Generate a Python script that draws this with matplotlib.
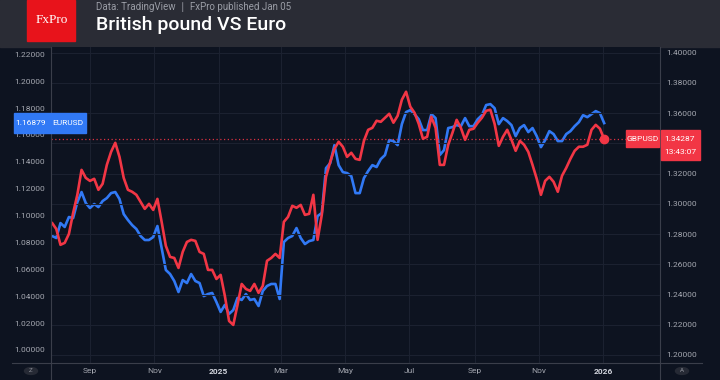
import numpy as np
import pandas as pd
import matplotlib
matplotlib.use("Agg")
import matplotlib.pyplot as plt
import matplotlib.transforms as mtransforms
from matplotlib.patches import Rectangle, Circle
from matplotlib.lines import Line2D

# daily-ish closes sampled every 4 days
dates = pd.date_range("2024-07-23", periods=133, freq="4D")

eurusd = [1.0870, 1.0848, 1.0833, 1.0944, 1.0915, 1.0989, 1.0981, 1.1100, 1.1175, 1.1093,
          1.1056, 1.1086, 1.1063, 1.1108, 1.1130, 1.1167, 1.1175, 1.1123, 1.1011, 1.0967,
          1.0929, 1.0900, 1.0848, 1.0818, 1.0818, 1.0840, 1.0922, 1.0758, 1.0595, 1.0565,
          1.0513, 1.0431, 1.0520, 1.0498, 1.0565, 1.0513, 1.0498, 1.0401, 1.0416, 1.0424,
          1.0357, 1.0283, 1.0335, 1.0268, 1.0297, 1.0387, 1.0372, 1.0416, 1.0372, 1.0379,
          1.0327, 1.0439, 1.0476, 1.0491, 1.0491, 1.0379, 1.0803, 1.0833, 1.0848, 1.0907,
          1.0833, 1.0788, 1.0810, 1.0818, 1.0996, 1.1019, 1.1353, 1.1390, 1.1524, 1.1375,
          1.1323, 1.1316, 1.1294, 1.1167, 1.1167, 1.1279, 1.1331, 1.1375, 1.1361, 1.1420,
          1.1450, 1.1561, 1.1554, 1.1524, 1.1680, 1.1770, 1.1784, 1.1755, 1.1717, 1.1636,
          1.1636, 1.1755, 1.1725, 1.1450, 1.1487, 1.1651, 1.1658, 1.1673, 1.1665, 1.1725,
          1.1665, 1.1665, 1.1717, 1.1747, 1.1822, 1.1829, 1.1799, 1.1680, 1.1725, 1.1703,
          1.1673, 1.1591, 1.1651, 1.1673, 1.1621, 1.1651, 1.1591, 1.1509, 1.1561, 1.1628,
          1.1606, 1.1554, 1.1554, 1.1606, 1.1628, 1.1665, 1.1695, 1.1747, 1.1732, 1.1755,
          1.1777, 1.1762, 1.16879]

gbpusd = [1.2887, 1.2874, 1.2834, 1.2729, 1.2742, 1.2801, 1.2940, 1.3060, 1.3225, 1.3172,
          1.3152, 1.3166, 1.3093, 1.3133, 1.3258, 1.3344, 1.3404, 1.3311, 1.3172, 1.3093,
          1.3080, 1.3060, 1.3013, 1.2967, 1.3000, 1.2960, 1.3033, 1.2881, 1.2722, 1.2649,
          1.2642, 1.2576, 1.2682, 1.2748, 1.2762, 1.2755, 1.2682, 1.2669, 1.2563, 1.2563,
          1.2503, 1.2530, 1.2391, 1.2225, 1.2199, 1.2331, 1.2470, 1.2437, 1.2424, 1.2470,
          1.2411, 1.2457, 1.2623, 1.2642, 1.2669, 1.2642, 1.2881, 1.2914, 1.2987, 1.2974,
          1.2993, 1.2927, 1.2934, 1.3060, 1.2762, 1.2927, 1.3179, 1.3278, 1.3364, 1.3411,
          1.3378, 1.3311, 1.3338, 1.3298, 1.3291, 1.3417, 1.3490, 1.3503, 1.3550, 1.3543,
          1.3570, 1.3596, 1.3537, 1.3583, 1.3689, 1.3742, 1.3643, 1.3603, 1.3530, 1.3431,
          1.3444, 1.3576, 1.3503, 1.3258, 1.3258, 1.3391, 1.3470, 1.3556, 1.3503, 1.3424,
          1.3490, 1.3497, 1.3537, 1.3570, 1.3616, 1.3623, 1.3530, 1.3384, 1.3444, 1.3490,
          1.3424, 1.3351, 1.3417, 1.3391, 1.3344, 1.3258, 1.3166, 1.3060, 1.3152, 1.3179,
          1.3146, 1.3080, 1.3186, 1.3238, 1.3298, 1.3351, 1.3378, 1.3378, 1.3391, 1.3490,
          1.3523, 1.3497, 1.34287]

tick_dates = pd.to_datetime(["2024-09-01", "2024-11-01", "2025-01-01", "2025-03-01", "2025-05-01",
                             "2025-07-01", "2025-09-01", "2025-11-01", "2026-01-01"])
tick_labels = ["Sep", "Nov", "2025", "Mar", "May", "Jul", "Sep", "Nov", "2026"]
eur_ticks = np.arange(1.00, 1.2201, 0.02)
gbp_ticks = np.arange(1.20, 1.4001, 0.02)

BG = "#0d1320"
HEAD = "#2a2c35"
GRID = "#1b2130"
EDGE = "#3a3e4a"
TXT = "#a4a7b0"
BLUE = "#3179f5"
RED = "#f23645"

plt.rcParams['font.family'] = ['Roboto', 'DejaVu Sans']

W, H = 720, 380
fig = plt.figure(figsize=(7.2, 3.8), dpi=100)
fig.patch.set_facecolor(BG)


def px(x, y):
    return x / W, 1 - y / H


# header band
fig.add_artist(Rectangle(px(0, 47), 1, 47 / H, transform=fig.transFigure, color=HEAD, zorder=0))
fig.add_artist(Rectangle(px(27, 41), 48 / W, 41 / H, transform=fig.transFigure, color="#e8131b", zorder=1))
fig.text(*px(52, 20), "FxPro", color="white", fontsize=9.5, family="Liberation Serif",
         ha="center", va="center")
fig.text(*px(96, 10), "Data: TradingView  \u2223  FxPro published Jan 05", color="#9a9da6",
         fontsize=7, ha="left", va="baseline")
fig.text(*px(96, 30), "British pound VS Euro", color="white", fontsize=14, fontweight="medium",
         ha="left", va="baseline")

# axes
l, b = px(51, 363)
ax = fig.add_axes([l, b, (660 - 51) / W, (363 - 47) / H])
ax.set_facecolor(BG)
ax2 = ax.twinx()

ax.plot(dates, eurusd, color=BLUE, lw=1.9, solid_joinstyle="round", zorder=3)
ax2.plot(dates, gbpusd, color=RED, lw=1.9, solid_joinstyle="round", zorder=3)
ax2.axhline(gbpusd[-1], color=RED, lw=0.9, ls=(0, (1, 2)), alpha=0.9, zorder=2)
ax2.plot(dates[-1], gbpusd[-1], "o", color=RED, ms=6, zorder=4)

ax.set_xlim(pd.Timestamp("2024-07-26"), pd.Timestamp("2026-02-24"))
ax.set_ylim(0.9903, 1.2254)
ax2.set_ylim(1.1947, 1.4038)

ax.set_xticks(tick_dates)
ax.set_xticklabels(tick_labels)
ax.set_yticks(eur_ticks)
ax.set_yticklabels([f"{v:.5f}" for v in eur_ticks])
ax2.set_yticks(gbp_ticks)
ax2.set_yticklabels([f"{v:.5f}" for v in gbp_ticks])

for a in (ax, ax2):
    for s in a.spines.values():
        s.set_visible(False)
    a.tick_params(length=0, labelsize=6, colors=TXT)
ax.tick_params(axis="y", pad=4.5)
ax2.tick_params(axis="y", pad=4.5)
ax.tick_params(axis="x", pad=3.5)
for lab in ax.get_xticklabels():
    if lab.get_text() in ("2025", "2026"):
        lab.set_fontweight("bold")
        lab.set_color("#d1d4dc")

ax.grid(axis="x", color=GRID, lw=0.8)
ax2.grid(axis="y", color=GRID, lw=0.8)
ax.set_axisbelow(True)
ax2.set_axisbelow(True)

# frame lines
fig.add_artist(Line2D([12 / W, 702 / W], [b, b], transform=fig.transFigure, color=EDGE, lw=0.8))
for xx in (51, 660):
    fig.add_artist(Line2D([xx / W, xx / W], [0, 1 - 47 / H], transform=fig.transFigure,
                          color=EDGE, lw=0.8))

# price labels
tr_l = mtransforms.blended_transform_factory(fig.transFigure, ax.transData)
tr_r = mtransforms.blended_transform_factory(fig.transFigure, ax2.transData)
eh = 0.0075
fig.add_artist(Rectangle((14 / W, eurusd[-1] - eh), 72 / W, 2 * eh, transform=tr_l,
                         color=BLUE, zorder=5, clip_on=False))
fig.text(31 / W, eurusd[-1], f"{eurusd[-1]:.5f}", transform=tr_l, color="white", fontsize=6,
         ha="center", va="center", zorder=6)
fig.text(68 / W, eurusd[-1], "EURUSD", transform=tr_l, color="white", fontsize=6,
         ha="center", va="center", zorder=6)

gh = 0.0035
fig.add_artist(Rectangle((626 / W, gbpusd[-1] - gh * 1.5), 33 / W, 3.2 * gh, transform=tr_r,
                         color=RED, zorder=5, clip_on=False))
fig.text(642.5 / W, gbpusd[-1], "GBPUSD", transform=tr_r, color="white", fontsize=6,
         ha="center", va="center", zorder=6)
fig.add_artist(Rectangle((661 / W, gbpusd[-1] - gh * 4.0), 39 / W, 5.7 * gh, transform=tr_r,
                         color=RED, zorder=5, clip_on=False))
fig.text(680 / W, gbpusd[-1], f"{gbpusd[-1]:.5f}", transform=tr_r, color="white", fontsize=6,
         ha="center", va="center", zorder=6)
fig.text(680 / W, gbpusd[-1] - 0.0085, "13:43:07", transform=tr_r, color="white", fontsize=6,
         ha="center", va="center", zorder=6)

# corner buttons
for cx, ch in ((31, "Z"), (682, "A")):
    fig.add_artist(Circle(px(cx, 371), 6.5 / W, transform=fig.transFigure, color="#262a35"))
    fig.text(*px(cx, 371), ch, color="#8a8d96", fontsize=4.5, ha="center", va="center")

fig.savefig("out.png", dpi=100, facecolor=BG)
